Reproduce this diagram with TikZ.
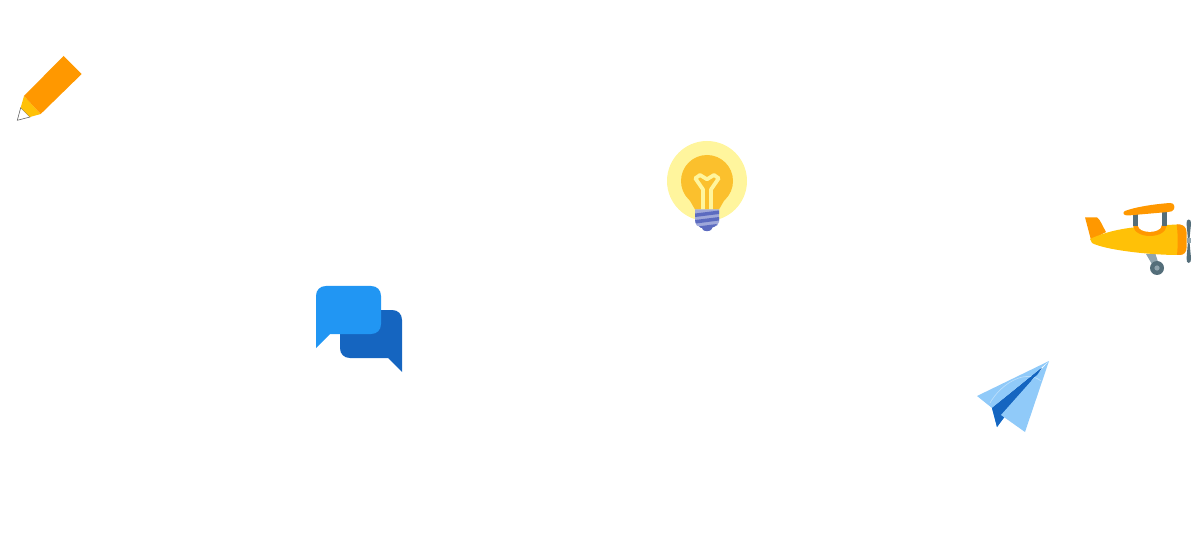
\documentclass[tikz,border=0pt]{standalone}
\definecolor{orA}{HTML}{FF9800}
\definecolor{yeA}{HTML}{FFC107}
\definecolor{bulbO}{HTML}{FFF59D}
\definecolor{bulbI}{HTML}{FBC02D}
\definecolor{bulbB}{HTML}{5C6BC0}
\definecolor{bulbS}{HTML}{9FA8DA}
\definecolor{slate}{HTML}{546E7A}
\definecolor{slateL}{HTML}{90A4AE}
\definecolor{blA}{HTML}{2196F3}
\definecolor{blB}{HTML}{1565C0}
\definecolor{blC}{HTML}{90CAF9}
\definecolor{blD}{HTML}{BBDEFB}
\begin{document}
\begin{tikzpicture}[x=1pt,y=-1pt]
\useasboundingbox (0,0) rectangle (1200,540);
% pencil
\fill[white,draw=gray!80!black,line width=.6pt] (20.7,107.7) -- (17.3,120.3) -- (30,117) -- cycle;
\fill[yeA] (24,96) -- (40.7,114) -- (30,117) -- (20.7,107.7) -- cycle;
\fill[orA] (63.5,56) -- (81.7,74) -- (40.7,114) -- (24,96) -- cycle;
% speech bubbles
\fill[blB] (340,318) .. controls (340,313) and (345,310) .. (350,310) -- (392,310)
  .. controls (398,310) and (402,314) .. (402,320) -- (402,372) -- (388,358) -- (350,358)
  .. controls (344,358) and (340,354) .. (340,348) -- cycle;
\fill[blA] (316,296) .. controls (316,290) and (320,286) .. (326,286) -- (371,286)
  .. controls (377,286) and (381,290) .. (381,296) -- (381,324)
  .. controls (381,330) and (377,334) .. (371,334) -- (330,334) -- (316,348) -- cycle;
% bulb
\fill[bulbO] (707,181) circle (40);
\fill[bulbI] (707,181) circle (26);
\fill[bulbI] (689,199) -- (695,209.5) -- (719,209.5) -- (725,199) -- cycle;
\draw[bulbO,line width=3.8pt,line join=round] (703,210) -- (703,189.5) -- (695.3,178.3) -- (700,175) -- (707,179.3) -- (714,175) -- (718.7,178.3) -- (711,189.5) -- (711,210);
\fill[bulbB] (700.5,225) -- (703,230) .. controls (705,231.5) and (709,231.5) .. (711,230) -- (714,225) -- cycle;
\fill[bulbS] (695,209.3) -- (719,209.3) -- (719,222) .. controls (719,225) and (716,227) .. (713,227) -- (701,227) .. controls (698,227) and (695,225) .. (695,222) -- cycle;
\fill[bulbB] (695,213.5) -- (719,210.5) -- (719,214) -- (695,217) -- cycle;
\fill[bulbB] (695,220) -- (719,217) -- (719,220.5) -- (696,223.5) -- cycle;
\fill[bulbB] (699,226.3) -- (717,224) -- (714,227) -- (701,228) -- cycle;
% plane
\fill[slateL] (1146,254) -- (1155.5,254) -- (1159,265) -- (1153,266) -- cycle;
\fill[slate] (1157,268) circle (7);
\fill[slateL] (1157,268) circle (2.6);
\fill[orA] (1085,217.3) -- (1097,217.3) .. controls (1100,219) and (1103,227) .. (1106,232) -- (1091,240) -- cycle;
\fill[yeA] (1090,239) .. controls (1105,232) and (1120,229) .. (1133,227.5) -- (1166,225) -- (1178,224.5) -- (1178,255) .. controls (1150,255) and (1105,250) .. (1092,243) -- cycle;
\fill[orA] (1176.7,224.5) -- (1180,224.5) .. controls (1184,225) and (1186.5,228) .. (1186.5,232) -- (1186.5,248) .. controls (1186.5,252) and (1184,255) .. (1180,255) -- (1177,255) .. controls (1178,245) and (1178,235) .. (1176.7,224.5) -- cycle;
\fill[orA] (1133,225.5) -- (1166.7,225.5) .. controls (1165.5,239.5) and (1134.5,239.5) .. (1133,225.5) -- cycle;
\fill[white] (1137.8,222) -- (1137.8,225.5) .. controls (1139,234) and (1160.5,234) .. (1161.7,225.5) -- (1161.7,222) -- cycle;
\fill[slate] (1133.3,212) rectangle (1137.8,226);
\fill[slate] (1161.7,211) rectangle (1166.7,226);
\fill[orA] (1125,211) .. controls (1135,207) and (1155,204) .. (1170,203) .. controls (1174,203) and (1175,206) .. (1174,209) .. controls (1173,211) and (1171,212) .. (1168,212) -- (1128,215.5) .. controls (1123,215.5) and (1122,212.5) .. (1125,211) -- cycle;
\fill[slate] (1188.7,219.5) .. controls (1190.5,219.5) and (1191.2,221) .. (1191,224) -- (1189.6,238) -- (1187.8,238) -- (1186.6,224) .. controls (1186.4,221) and (1186.9,219.5) .. (1188.7,219.5) -- cycle;
\fill[slate] (1187.8,243) -- (1189.6,243) -- (1191,258) .. controls (1191.2,261) and (1190.5,263) .. (1188.7,263) .. controls (1186.9,263) and (1186.4,261) .. (1186.6,258) -- cycle;
\fill[slateL] (1186.6,238) -- (1191,238) -- (1191,243) -- (1186.6,243) -- cycle;
% paper plane
\fill[blA] (992,408) -- (997,427) -- (1005,416) -- cycle;
\fill[blB] (992,408) -- (1041,368) -- (997,427) -- cycle;
\fill[blC] (1049,361) -- (977,396) -- (992,408) -- (1041,368) -- cycle;
\fill[blC] (1049,361) -- (1025,432) -- (1001,415) -- cycle;
\draw[blD,line width=.7pt] (990,403) .. controls (1000,385) and (1025,368) .. (1041,381);
\fill[blB] (1042,368) -- (1037,375) -- (993,410) -- (992,408) -- cycle;
\end{tikzpicture}
\end{document}
